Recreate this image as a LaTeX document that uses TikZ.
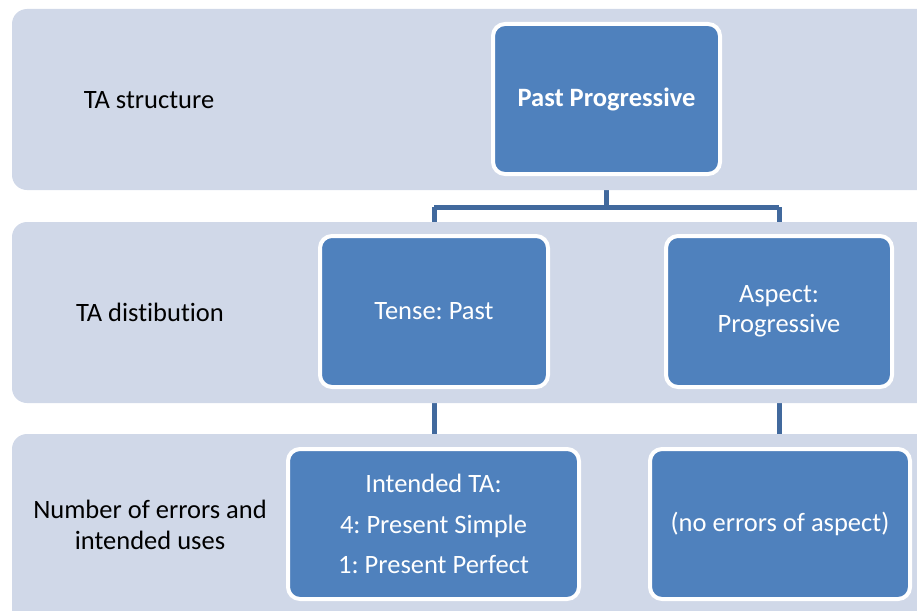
\documentclass[tikz,border=0pt]{standalone}
\usepackage{fontspec}
\setmainfont{Carlito}[Ligatures={NoCommon}]
\usetikzlibrary{backgrounds}
\frenchspacing
\definecolor{bandfill}{HTML}{D0D8E8}
\definecolor{boxblue}{HTML}{4F81BD}
\definecolor{linkblue}{HTML}{41699D}
\tikzset{
  band/.style={fill=bandfill, rounded corners=15pt},
  rowlabel/.style={font=\fontsize{26.5}{31}\selectfont, text=black, align=center},
  tabox/.style={draw=white, line width=4pt, fill=boxblue, rounded corners=12pt,
    text=white, inner sep=0pt, align=center, font=\fontsize{26.5}{30}\selectfont},
  link/.style={draw=linkblue, line width=5pt}
}
\begin{document}
\begin{tikzpicture}[x=1pt, y=-1pt]
\useasboundingbox (0,0) rectangle (917,610);
\clip (0,0) rectangle (917,610);
% background bands
\fill[band] (12,9) rectangle (950,190);
\fill[band] (12,222) rectangle (950,403);
\fill[band] (12,434) rectangle (950,650);
% row labels
\node[rowlabel] (l1) at (149,100) {TA structure};
\node[rowlabel] (l2) at (150,312) {TA distibution};
\node[rowlabel] (l3) at (150,525) {Number of errors and\\intended uses};
% boxes
\node[tabox, minimum width=227pt, minimum height=150pt] (pp) at (606.5,99) {\textbf{Past Progressive}};
\node[tabox, minimum width=228pt, minimum height=151pt] (tense) at (434,311.5) {Tense: Past};
\node[tabox, minimum width=226pt, minimum height=151pt] (aspect) at (779,311.5) {Aspect:\\Progressive};
\node[tabox, minimum width=291pt, minimum height=150pt, font=\fontsize{26.5}{40.5}\selectfont] (intended) at (433.5,524) {Intended TA:\\4: Present Simple\\1: Present Perfect};
\node[tabox, minimum width=260pt, minimum height=150pt] (noerr) at (780,524) {(no errors of aspect)};
% connectors
\begin{scope}[on background layer]
\coordinate (split) at (606.5,207);
\draw[link] (pp.south) -- (split);
\draw[link] (split -| tense.north) -- (split -| aspect.north);
\draw[link] (split -| tense.north) -- (tense.north);
\draw[link] (split -| aspect.north) -- (aspect.north);
\draw[link] (tense.south) -- (intended.north -| tense.south);
\draw[link] (aspect.south) -- (noerr.north -| aspect.south);
\end{scope}
\end{tikzpicture}
\end{document}
